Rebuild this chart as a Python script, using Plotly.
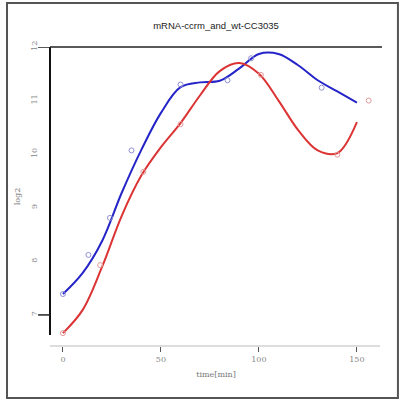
import plotly.graph_objects as go

title = "mRNA-ccrm_and_wt-CC3035"
x_label = "time[min]"
y_label = "log2"

# smooth curve readings (time, value)
curve_t = [0, 10, 20, 30, 40, 50, 60, 70, 80, 90, 100, 110, 120, 130, 140, 150]
blue_y = [7.39, 7.78, 8.38, 9.28, 10.08, 10.77, 11.25, 11.34, 11.37, 11.60, 11.87, 11.87, 11.66, 11.38, 11.17, 10.96]
red_y = [6.66, 7.09, 7.90, 8.85, 9.60, 10.13, 10.58, 11.10, 11.55, 11.70, 11.50, 11.00, 10.45, 10.07, 10.02, 10.60]

# observed points
blue_pt_t = [0, 13, 24, 35, 60, 84, 96, 132]
blue_pt_y = [7.39, 8.12, 8.81, 10.07, 11.30, 11.38, 11.79, 11.24]
red_pt_t = [0, 19, 41, 60, 101, 140, 156]
red_pt_y = [6.66, 7.93, 9.67, 10.56, 11.48, 9.99, 11.0]

x_ticks = [0, 50, 100, 150]
y_ticks = [7, 8, 9, 10, 11, 12]

fig = go.Figure()
fig.add_trace(go.Scatter(x=curve_t, y=blue_y, mode="lines",
                         line=dict(color="#2424c8", width=2, shape="spline", smoothing=1.0),
                         showlegend=False, hoverinfo="skip"))
fig.add_trace(go.Scatter(x=curve_t, y=red_y, mode="lines",
                         line=dict(color="#dc3434", width=2, shape="spline", smoothing=1.0),
                         showlegend=False, hoverinfo="skip"))
fig.add_trace(go.Scatter(x=blue_pt_t, y=blue_pt_y, mode="markers",
                         marker=dict(symbol="circle-open", size=5, color="#9090d4", line=dict(width=1)),
                         showlegend=False))
fig.add_trace(go.Scatter(x=red_pt_t, y=red_pt_y, mode="markers",
                         marker=dict(symbol="circle-open", size=5, color="#e49a9a", line=dict(width=1)),
                         showlegend=False))

shapes = [
    # outer frame
    dict(type="rect", xref="paper", yref="paper", x0=-0.1295, x1=1.048, y0=-0.1739, y1=1.147,
         line=dict(color="#555555", width=2), layer="below"),
    # left axis line
    dict(type="line", xref="paper", yref="paper", x0=0, x1=0, y0=1, y1=0.0368,
         line=dict(color="#111111", width=2)),
    # top line
    dict(type="line", xref="paper", yref="paper", x0=0, x1=1, y0=1, y1=1,
         line=dict(color="#222222", width=1.5)),
    # bottom axis line
    dict(type="line", xref="paper", yref="paper", x0=0, x1=0.994, y0=0, y1=0,
         line=dict(color="#bbbbbb", width=1)),
]
for v in (y_ticks[0], y_ticks[-1]):
    shapes.append(dict(type="line", xref="paper", yref="y", x0=-0.036, x1=0, y0=v, y1=v,
                       line=dict(color="#222222", width=1.5)))

fig.update_layout(
    width=400, height=401,
    margin=dict(l=50, r=18, t=47, b=55),
    paper_bgcolor="white", plot_bgcolor="white",
    title=dict(text=title, x=0.54, xanchor="center", y=0.935, yanchor="middle",
               font=dict(family="Liberation Sans", size=9.5, color="#222222")),
    shapes=shapes,
    xaxis=dict(range=[-6.6, 162.8], tickvals=x_ticks, ticktext=[str(v) for v in x_ticks],
               showgrid=False, zeroline=False, showline=False,
               ticks="outside", ticklen=5, tickcolor="#555555", tickwidth=1.2,
               tickfont=dict(family="DejaVu Serif", size=8, color="#888888"),
               title=dict(text=x_label, font=dict(family="DejaVu Serif", size=8, color="#777777"),
                          standoff=8)),
    yaxis=dict(range=[6.42, 12.0], tickvals=y_ticks, ticktext=[str(v) for v in y_ticks],
               showgrid=False, zeroline=False, showline=False, ticks="",
               tickangle=-90, ticklabelstandoff=10,
               tickfont=dict(family="DejaVu Serif", size=8, color="#888888"),
               title=dict(text=y_label, font=dict(family="DejaVu Serif", size=8, color="#777777"),
                          standoff=8)),
)

fig.write_html("out.html")
